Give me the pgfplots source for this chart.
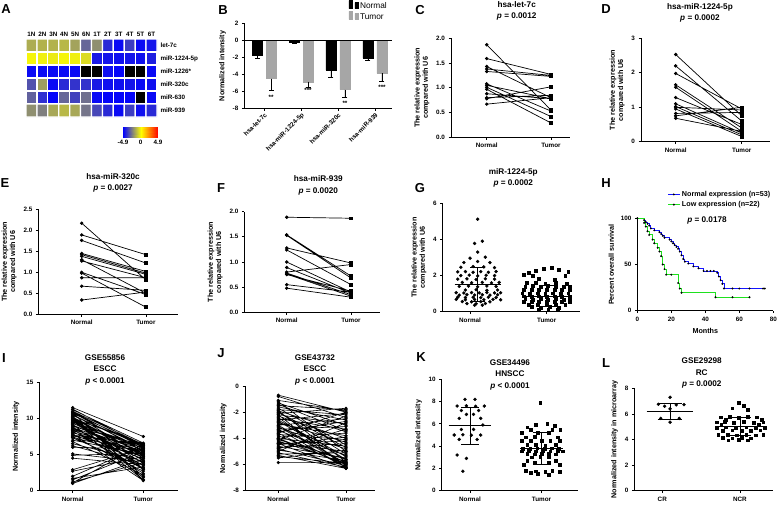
\documentclass[border=0pt]{standalone}
\usepackage{fontspec}
\setmainfont{Liberation Sans}
\usepackage{pgfplots}
\pgfplotsset{compat=1.18}
\newcommand{\tfont}{\fontsize{6.3}{7}\selectfont\bfseries}
\newcommand{\lfont}{\fontsize{7.2}{8.2}\selectfont\bfseries}
\newcommand{\ttfont}{\fontsize{8.2}{11.5}\selectfont\bfseries}
\newcommand{\pfont}{\fontsize{13}{13}\selectfont\bfseries}
\definecolor{tgray}{RGB}{166,166,166}
\definecolor{kmblue}{RGB}{20,20,255}
\definecolor{kmgreen}{RGB}{30,225,30}
\pgfplotsset{
  gp/.style={scale only axis, anchor=north west,
    axis x line*=bottom, axis y line*=left,
    axis line style={line width=0.9pt,-},
    tick style={black, line width=0.8pt},
    tick align=outside, major tick length=2.5pt,
    tick label style={font=\tfont},
    label style={font=\lfont},
    ylabel style={align=center},
    /pgf/number format/assume math mode=true,
    clip=false,
    title style={font=\ttfont, align=center, anchor=south, inner sep=0pt},
  },
  paired/.style={gp, xtick={1,2}, xticklabels={Normal,Tumor}, ymin=0,
    ylabel={The relative expression\\compared with U6}},
  pairline/.style={black, line width=0.7pt, mark size=1.35pt, unbounded coords=jump,
    scatter, point meta=explicit symbolic,
    scatter/classes={n={mark=*,black}, t={mark=square*,black}}},
  dots/.style={only marks, black, mark=*, mark size=1.5pt},
  sqs/.style={only marks, black, mark=square*, mark size=1.4pt},
  stat/.style={black, line width=0.8pt},
}
\begin{document}
\begin{tikzpicture}
\useasboundingbox (0,0) rectangle (778pt,-506pt);
% panel letters
\node[font=\pfont] at (6pt,-9pt) {A};
\node[font=\pfont] at (223pt,-10pt) {B};
\node[font=\pfont] at (420pt,-10pt) {C};
\node[font=\pfont] at (606pt,-9pt) {D};
\node[font=\pfont] at (5pt,-183pt) {E};
\node[font=\pfont] at (221pt,-188pt) {F};
\node[font=\pfont] at (420pt,-188pt) {G};
\node[font=\pfont] at (606pt,-183pt) {H};
\node[font=\pfont] at (4pt,-358pt) {I};
\node[font=\pfont] at (221pt,-353pt) {J};
\node[font=\pfont] at (421pt,-357pt) {K};
\node[font=\pfont] at (606pt,-363pt) {L};

% ---------------- A heatmap
\begin{axis}[scale only axis, anchor=north west, at={(26pt,-39pt)}, width=131pt, height=78pt,
  xmin=-0.5, xmax=11.5, ymin=-0.5, ymax=5.5, y dir=reverse,
  xtick={0,...,11}, xticklabels={1N,2N,3N,4N,5N,6N,1T,2T,3T,4T,5T,6T},
  xticklabel pos=upper,
  ytick={0,...,5}, yticklabels={let-7c,miR-1224-5p,miR-1226*,miR-320c,miR-630,miR-939},
  yticklabel pos=upper,
  major tick length=0pt, axis line style={draw=none},
  tick label style={font=\fontsize{6.3}{7}\selectfont\bfseries},
  xticklabel style={yshift=-1pt},
  colormap={hm}{rgb255(0cm)=(0,0,0); rgb255(1cm)=(0,0,0); rgb255(2cm)=(0,0,255); rgb255(7cm)=(255,255,0); rgb255(12cm)=(255,0,0)},
  point meta min=-7, point meta max=5, clip=false]
\addplot[matrix plot, shader=faceted, faceted color=white, line width=1.3pt, mesh/cols=12, point meta=explicit]
 table[meta=c, row sep=\\] {x y c\\
0 0 -1.6\\ 1 0 -1.5\\ 2 0 -1.5\\ 3 0 -1.4\\ 4 0 -1.8\\ 5 0 -3.0\\ 6 0 -2.2\\ 7 0 -4.2\\ 8 0 -4.8\\ 9 0 -3.8\\ 10 0 -4.8\\ 11 0 -4.6\\
0 1 -0.2\\ 1 1 -0.3\\ 2 1 -0.4\\ 3 1 -0.2\\ 4 1 -0.3\\ 5 1 -0.7\\ 6 1 -4.5\\ 7 1 -4.6\\ 8 1 -4.7\\ 9 1 -4.6\\ 10 1 -4.7\\ 11 1 -4.4\\
0 2 -4.8\\ 1 2 -4.8\\ 2 2 -4.8\\ 3 2 -4.8\\ 4 2 -4.8\\ 5 2 -6.5\\ 6 2 -6.5\\ 7 2 -4.7\\ 8 2 -4.9\\ 9 2 -6.5\\ 10 2 -6.5\\ 11 2 -4.8\\
0 3 -3.4\\ 1 3 -1.9\\ 2 3 -4.8\\ 3 3 -4.2\\ 4 3 -4.0\\ 5 3 -4.0\\ 6 3 -4.5\\ 7 3 -4.7\\ 8 3 -4.7\\ 9 3 -4.6\\ 10 3 -4.8\\ 11 3 -4.7\\
0 4 -3.1\\ 1 4 -4.1\\ 2 4 -4.9\\ 3 4 -3.0\\ 4 4 -3.7\\ 5 4 -2.8\\ 6 4 -4.8\\ 7 4 -4.9\\ 8 4 -4.9\\ 9 4 -4.9\\ 10 4 -6.5\\ 11 4 -4.8\\
0 5 -2.2\\ 1 5 -2.5\\ 2 5 -1.7\\ 3 5 -1.4\\ 4 5 -1.7\\ 5 5 -2.7\\ 6 5 -3.6\\ 7 5 -4.2\\ 8 5 -4.8\\ 9 5 -3.8\\ 10 5 -4.7\\ 11 5 -4.2\\
};
\end{axis}
% colorbar
\begin{axis}[scale only axis, anchor=north west, at={(123pt,-127pt)}, width=35pt, height=10pt,
  xmin=-4.9, xmax=4.9, ymin=0, ymax=1, view={0}{90},
  xtick={-4.9,0,4.9}, xticklabels={-4.9,0,4.9}, ytick=\empty, ztick=\empty,
  major tick length=0pt, axis line style={draw=none},
  tick label style={font=\fontsize{6.3}{7}\selectfont\bfseries},
  colormap={cb}{rgb255(0cm)=(0,0,255); rgb255(1cm)=(255,255,0); rgb255(2cm)=(255,0,0)},
  point meta min=-4.9, point meta max=4.9]
\addplot3[surf, shader=interp, point meta=x, mesh/cols=3] coordinates {
(-4.9,0,0) (0,0,0) (4.9,0,0)
(-4.9,1,0) (0,1,0) (4.9,1,0)};
\end{axis}

% ---------------- B
\begin{axis}[gp, at={(244.3pt,-23.3pt)}, width=147.7pt, height=85pt,
  xmin=0.467, xmax=4.46, ymin=-8, ymax=2, ytick={-8,-6,-4,-2,0,2},
  xtick={1,2,3,4}, xticklabels={hsa-let-7c,hsa-miR-1224-5p,hsa-miR-320c,hsa-miR-939},
  xticklabel style={rotate=45, anchor=north east, inner sep=1pt},
  ylabel={Normalized intensity},
  ybar=4pt, bar width=10pt,
  legend style={at={(1,1)}, anchor=south east, draw=none, fill=none,
    font=\fontsize{8.3}{9}\selectfont, yshift=-2pt, legend cell align=left, row sep=-1pt}]
\addplot[fill=black, draw=black, error bars/.cd, y dir=minus, y explicit,
  error bar style={line width=0.7pt, black}, error mark options={rotate=90, mark size=2.5pt, line width=0.7pt, black}]
  coordinates {(1,-1.8) +- (0,0.3) (2,-0.2) +- (0,0.2) (3,-3.5) +- (0,0.8) (4,-2.1) +- (0,0.3)};
\addplot[fill=tgray, draw=tgray, error bars/.cd, y dir=minus, y explicit,
  error bar style={line width=0.7pt, black}, error mark options={rotate=90, mark size=2.5pt, line width=0.7pt, black}]
  coordinates {(1,-4.5) +- (0,1.4) (2,-4.9) +- (0,0.6) (3,-5.8) +- (0,0.9) (4,-3.9) +- (0,0.9)};
\legend{Normal,Tumor}
\addplot[black, line width=0.9pt, forget plot, sharp plot] coordinates {(0.467,0) (4.46,0)};
\node[font=\tfont] at (axis cs:1,-6.7) [xshift=7pt] {**};
\node[font=\tfont] at (axis cs:2,-5.9) [xshift=7pt] {***};
\node[font=\tfont] at (axis cs:3,-7.4) [xshift=7pt] {**};
\node[font=\tfont] at (axis cs:4,-5.5) [xshift=7pt] {***};
\end{axis}

% ---------------- C
\begin{axis}[paired, at={(451pt,-38.3pt)}, width=119pt, height=99pt,
  xmin=0.444, xmax=2.296, ymax=2, ytick={0,0.5,...,2},
  yticklabel style={/pgf/number format/.cd, fixed, fixed zerofill, precision=1},
  title={hsa-let-7c\\\textit{p} = 0.0012}, title style={at={(0.552,1)}, yshift=11.8pt}]
\addplot[pairline] table[meta=c, row sep=\\] {x y c\\
1 1.87 n\\ 2 0.55 t\\ 1 nan n\\ 1 1.59 n\\ 2 1.27 t\\ 1 nan n\\ 1 1.43 n\\ 2 0.80 t\\ 1 nan n\\
1 1.38 n\\ 2 1.25 t\\ 1 nan n\\ 1 1.33 n\\ 2 1.23 t\\ 1 nan n\\ 1 1.08 n\\ 2 0.53 t\\ 1 nan n\\
1 1.05 n\\ 2 0.78 t\\ 1 nan n\\ 1 1.01 n\\ 2 0.42 t\\ 1 nan n\\ 1 0.97 n\\ 2 0.29 t\\ 1 nan n\\
1 0.88 n\\ 2 0.78 t\\ 1 nan n\\ 1 0.80 n\\ 2 0.85 t\\ 1 nan n\\ 1 0.78 n\\ 2 1.02 t\\ 1 nan n\\
1 0.67 n\\ 2 0.80 t\\};
\end{axis}

% ---------------- D
\begin{axis}[paired, at={(641pt,-38.3pt)}, width=129pt, height=103.4pt,
  xmin=0.475, xmax=2.428, ymax=3, ytick={0,1,2,3},
  title={hsa-miR-1224-5p\\\textit{p} = 0.0002}, title style={at={(0.457,1)}, yshift=9.8pt}]
\addplot[pairline] table[meta=c, row sep=\\] {x y c\\
1 2.53 n\\ 2 0.75 t\\ 1 nan n\\ 1 2.20 n\\ 2 0.60 t\\ 1 nan n\\ 1 1.98 n\\ 2 0.95 t\\ 1 nan n\\
1 1.65 n\\ 2 0.40 t\\ 1 nan n\\ 1 1.58 n\\ 2 0.30 t\\ 1 nan n\\ 1 1.28 n\\ 2 0.50 t\\ 1 nan n\\
1 1.10 n\\ 2 0.25 t\\ 1 nan n\\ 1 1.02 n\\ 2 0.20 t\\ 1 nan n\\ 1 0.95 n\\ 2 0.15 t\\ 1 nan n\\
1 0.82 n\\ 2 0.85 t\\ 1 nan n\\ 1 0.75 n\\ 2 1.00 t\\ 1 nan n\\ 1 0.68 n\\ 2 0.30 t\\ 1 nan n\\
1 1.00 n\\ 2 0.92 t\\};
\end{axis}

% ---------------- E
\begin{axis}[paired, at={(38.3pt,-209.3pt)}, width=139.7pt, height=105pt,
  xmin=0.324, xmax=2.5, ymax=2.5, ytick={0,0.5,...,2.5},
  yticklabel style={/pgf/number format/.cd, fixed, fixed zerofill, precision=1},
  title={hsa-miR-320c\\\textit{p} = 0.0027}, title style={at={(0.535,1)}, yshift=10.8pt}]
\addplot[pairline] table[meta=c, row sep=\\] {x y c\\
1 2.17 n\\ 2 0.82 t\\ 1 nan n\\ 1 1.89 n\\ 2 1.42 t\\ 1 nan n\\ 1 1.76 n\\ 2 1.22 t\\ 1 nan n\\
1 1.45 n\\ 2 1.02 t\\ 1 nan n\\ 1 1.42 n\\ 2 0.98 t\\ 1 nan n\\ 1 1.38 n\\ 2 0.95 t\\ 1 nan n\\
1 1.30 n\\ 2 0.50 t\\ 1 nan n\\ 1 1.27 n\\ 2 0.87 t\\ 1 nan n\\ 1 1.00 n\\ 2 0.47 t\\ 1 nan n\\
1 0.98 n\\ 2 0.17 t\\ 1 nan n\\ 1 0.87 n\\ 2 0.87 t\\ 1 nan n\\ 1 0.67 n\\ 2 0.57 t\\ 1 nan n\\
1 0.34 n\\ 2 0.53 t\\};
\end{axis}

% ---------------- F
\begin{axis}[paired, at={(244.3pt,-211.7pt)}, width=135.7pt, height=100.6pt,
  xmin=0.341, xmax=2.45, ymax=2, ytick={0,0.5,...,2},
  yticklabel style={/pgf/number format/.cd, fixed, fixed zerofill, precision=1},
  title={hsa-miR-939\\\textit{p} = 0.0020}, title style={at={(0.545,1)}, yshift=10.5pt}]
\addplot[pairline] table[meta=c, row sep=\\] {x y c\\
1 1.89 n\\ 2 1.87 t\\ 1 nan n\\ 1 1.54 n\\ 2 0.72 t\\ 1 nan n\\ 1 1.53 n\\ 2 0.68 t\\ 1 nan n\\
1 1.28 n\\ 2 0.98 t\\ 1 nan n\\ 1 1.24 n\\ 2 0.55 t\\ 1 nan n\\ 1 1.00 n\\ 2 0.40 t\\ 1 nan n\\
1 0.89 n\\ 2 0.38 t\\ 1 nan n\\ 1 0.80 n\\ 2 0.95 t\\ 1 nan n\\ 1 0.78 n\\ 2 0.35 t\\ 1 nan n\\
1 0.76 n\\ 2 0.32 t\\ 1 nan n\\ 1 0.55 n\\ 2 0.40 t\\ 1 nan n\\ 1 0.48 n\\ 2 0.30 t\\ 1 nan n\\
1 0.75 n\\ 2 0.42 t\\};
\end{axis}

% ---------------- G
\begin{axis}[gp, at={(442.7pt,-203.3pt)}, width=137pt, height=108.4pt,
  xmin=0.644, xmax=2.43, ymin=0, ymax=6, ytick={0,2,4,6},
  xtick={1,2}, xticklabels={Normal,Tumor},
  ylabel={The relative expression\\compared with U6},
  title={miR-1224-5p\\\textit{p} = 0.0002}, title style={at={(0.515,1)}, yshift=9.5pt}]
\addplot[dots] coordinates {
(1.10,5.12) (1.16,3.90) (1.06,3.78) (1.10,3.30) (1.20,3.02) (1.00,2.96) (0.92,2.72) (1.10,2.78) (1.26,2.72)
(0.88,2.46) (1.04,2.50) (1.18,2.48) (1.32,2.44)
(0.84,2.20) (0.94,2.22) (1.04,2.18) (1.14,2.22) (1.24,2.18) (1.34,2.22)
(0.88,2.00) (0.99,2.02) (1.10,1.98) (1.21,2.02) (1.32,2.00)
(0.84,1.80) (0.96,1.82) (1.08,1.78) (1.20,1.82) (1.32,1.80)
(0.90,1.62) (1.02,1.60) (1.16,1.62) (1.28,1.60) (1.38,1.62)
(0.86,1.40) (0.98,1.42) (1.10,1.38) (1.22,1.42) (1.34,1.40)
(0.94,1.20) (1.08,1.22) (1.22,1.18) (1.36,1.20)
(0.82,1.05) (0.92,1.04) (1.02,1.06) (1.12,1.04) (1.22,1.06) (1.32,1.04) (1.40,1.05)
(0.86,0.92) (0.96,0.94) (1.06,0.92) (1.16,0.94) (1.26,0.92) (1.36,0.94)
(0.84,0.80) (0.94,0.78) (1.04,0.80) (1.14,0.78) (1.24,0.80) (1.34,0.78)
(0.82,0.68) (0.94,0.66) (1.06,0.68) (1.18,0.66) (1.30,0.68) (1.40,0.66)
(0.90,0.56) (1.02,0.55) (1.14,0.56) (1.26,0.55)
(0.96,0.45) (1.08,0.44) (1.20,0.45) (1.06,0.36) (1.16,0.36)};
\addplot[sqs] coordinates {
(2.06,2.45) (1.96,2.40) (2.16,2.32) (1.86,2.26) (2.28,2.20) (1.76,2.14)
(1.70,2.04) (1.82,2.00) (2.24,1.98) (1.90,1.82) (2.10,1.76)
(1.74,1.60) (1.86,1.62) (1.98,1.58) (2.12,1.60) (2.26,1.57)
(1.72,1.40) (1.82,1.42) (1.92,1.38) (2.02,1.42) (2.12,1.38) (2.22,1.40) (2.30,1.41)
(1.70,1.22) (1.80,1.20) (1.90,1.22) (2.00,1.20) (2.10,1.22) (2.20,1.20) (2.30,1.22)
(1.68,1.02) (1.78,1.00) (1.88,1.02) (1.98,1.00) (2.08,1.02) (2.18,1.00) (2.28,1.02)
(1.70,0.86) (1.80,0.84) (1.90,0.86) (2.00,0.84) (2.10,0.86) (2.20,0.84) (2.30,0.86)
(1.72,0.70) (1.82,0.68) (1.92,0.70) (2.02,0.68) (2.12,0.70) (2.22,0.68) (2.30,0.70)
(1.70,0.54) (1.80,0.56) (1.90,0.54) (2.00,0.56) (2.10,0.54) (2.20,0.56) (2.30,0.54)
(1.76,0.40) (1.88,0.38) (2.00,0.40) (2.12,0.38) (2.24,0.40)
(1.80,0.26) (1.92,0.24) (2.04,0.26) (2.16,0.24) (1.90,0.12) (2.02,0.10) (2.14,0.12)};
\addplot[stat] coordinates {(0.80,1.52) (1.40,1.52)};
\addplot[stat] coordinates {(1.1,0.57) (1.1,2.47)};
\addplot[stat] coordinates {(1.0,0.57) (1.2,0.57)};
\addplot[stat] coordinates {(1.0,2.47) (1.2,2.47)};
\addplot[stat] coordinates {(1.70,0.85) (2.30,0.85)};
\addplot[stat] coordinates {(2,0.30) (2,1.45)};
\addplot[stat] coordinates {(1.9,0.30) (2.1,0.30)};
\addplot[stat] coordinates {(1.9,1.45) (2.1,1.45)};
\end{axis}

% ---------------- H
\begin{axis}[gp, at={(637.3pt,-218.3pt)}, width=136pt, height=92.4pt,
  xmin=0, xmax=80, ymin=0, ymax=100, xtick={0,20,40,60,80}, ytick={0,50,100},
  xlabel={Months}, ylabel={Percent overall survival},
  legend style={at={(axis cs:16,134)}, anchor=north west, draw=none, fill=none,
    font=\fontsize{7.2}{8}\selectfont\bfseries, legend cell align=left, row sep=-0.5pt},
  legend image code/.code={\draw[mark repeat=2,mark phase=2,#1] plot coordinates {(0cm,0cm) (0.2cm,0cm) (0.4cm,0cm)};}]
\addplot[const plot, kmblue, line width=0.9pt, mark=*, mark size=0.45pt, mark options={black}] coordinates {
(0,100) (4,98) (5,96) (6,94) (7,92) (8,89) (10,87) (13,85) (14,83) (15,81) (16,79) (19,77) (20,75)
(21,73) (22,71) (23,69) (24,67) (25,64) (26,60) (27,56) (28,53) (30,51) (33,48) (36,46) (39,43)
(41,43) (43,43) (45,43) (47,41) (48,37) (49,33) (50,29) (51,24) (56,24) (60,24) (66,24) (74,24) (75,24)};
\addplot[const plot, kmgreen, line width=0.9pt, mark=*, mark size=0.45pt, mark options={black}] coordinates {
(0,100) (4,95) (5,91) (6,86) (7,82) (9,77) (10,73) (12,68) (13,64) (14,59) (15,50) (16,45) (17,39)
(20,39) (24,30) (25,24) (26,19.5) (46,14.6) (56,14.6) (66,14.6)};
\legend{Normal expression (n=53), Low expression (n=22)}
\node[font=\ttfont] at (axis cs:41,98) {\textit{p} = 0.0178};
\end{axis}

% ---------------- I
\begin{axis}[gp, at={(39.3pt,-382.3pt)}, width=139pt, height=108.4pt,
  xmin=0.527, xmax=2.496, ymin=0, ymax=15, ytick={0,5,10,15},
  xtick={1,2}, xticklabels={Normal,Tumor}, ylabel={Normalized intensity},
  title={GSE55856\\ESCC\\\textit{p} < 0.0001}, title style={at={(0.473,1)}, yshift=-8.9pt}]
\addplot[black, line width=0.6pt, mark=*, mark size=1.3pt, unbounded coords=jump] table[row sep=\\] {x y\\
1 11.5\\ 2 7.5\\ 1 nan\\ 1 11.3\\ 2 6.2\\ 1 nan\\ 1 11.2\\ 2 6.6\\ 1 nan\\ 1 11.0\\ 2 6.4\\ 1 nan\\
1 10.9\\ 2 6.0\\ 1 nan\\ 1 10.8\\ 2 5.5\\ 1 nan\\ 1 10.8\\ 2 1.5\\ 1 nan\\ 1 10.7\\ 2 6.3\\ 1 nan\\
1 10.6\\ 2 4.8\\ 1 nan\\ 1 10.5\\ 2 5.8\\ 1 nan\\ 1 10.4\\ 2 6.2\\ 1 nan\\ 1 10.3\\ 2 2.0\\ 1 nan\\
1 10.2\\ 2 5.0\\ 1 nan\\ 1 10.1\\ 2 4.5\\ 1 nan\\ 1 10.0\\ 2 6.5\\ 1 nan\\ 1 10.0\\ 2 3.1\\ 1 nan\\
1 9.9\\ 2 5.6\\ 1 nan\\ 1 9.9\\ 2 2.9\\ 1 nan\\ 1 9.8\\ 2 1.8\\ 1 nan\\ 1 9.7\\ 2 5.2\\ 1 nan\\
1 9.6\\ 2 3.8\\ 1 nan\\ 1 9.5\\ 2 6.1\\ 1 nan\\ 1 9.4\\ 2 4.2\\ 1 nan\\ 1 9.3\\ 2 5.9\\ 1 nan\\
1 9.2\\ 2 1.5\\ 1 nan\\ 1 9.1\\ 2 4.9\\ 1 nan\\ 1 9.0\\ 2 5.4\\ 1 nan\\ 1 8.9\\ 2 6.3\\ 1 nan\\
1 8.8\\ 2 3.5\\ 1 nan\\ 1 8.7\\ 2 5.7\\ 1 nan\\ 1 8.6\\ 2 4.6\\ 1 nan\\ 1 8.5\\ 2 2.4\\ 1 nan\\
1 8.4\\ 2 6.0\\ 1 nan\\ 1 8.3\\ 2 5.1\\ 1 nan\\ 1 8.2\\ 2 3.0\\ 1 nan\\ 1 8.1\\ 2 4.4\\ 1 nan\\
1 8.0\\ 2 5.5\\ 1 nan\\ 1 7.9\\ 2 1.4\\ 1 nan\\ 1 7.8\\ 2 4.0\\ 1 nan\\ 1 7.7\\ 2 6.4\\ 1 nan\\
1 7.6\\ 2 5.3\\ 1 nan\\ 1 7.5\\ 2 2.7\\ 1 nan\\ 1 7.4\\ 2 4.8\\ 1 nan\\ 1 7.3\\ 2 3.2\\ 1 nan\\
1 7.0\\ 2 5.0\\ 1 nan\\ 1 6.8\\ 2 2.2\\ 1 nan\\ 1 6.5\\ 2 4.1\\ 1 nan\\ 1 6.2\\ 2 3.6\\ 1 nan\\
1 6.0\\ 2 5.8\\ 1 nan\\ 1 5.1\\ 2 4.0\\ 1 nan\\ 1 4.9\\ 2 5.2\\ 1 nan\\ 1 4.5\\ 2 3.6\\ 1 nan\\
1 2.9\\ 2 5.9\\ 1 nan\\ 1 2.7\\ 2 4.7\\ 1 nan\\ 1 2.0\\ 2 6.2\\ 1 nan\\ 1 1.7\\ 2 3.3\\ 1 nan\\
1 1.5\\ 2 5.4\\ 1 nan\\ 1 1.2\\ 2 3.9\\ 1 nan\\ 1 1.0\\ 2 4.4\\ 1 nan\\ 1 1.1\\ 2 6.5\\};
\end{axis}

% ---------------- J
\begin{axis}[gp, at={(245pt,-386pt)}, width=130pt, height=104.7pt,
  xmin=0.508, xmax=2.428, ymin=-8, ymax=0, ytick={-8,-6,-4,-2,0},
  xtick={1,2}, xticklabels={Normal,Tumor}, ylabel={Normalized intensity},
  title={GSE43732\\ESCC\\\textit{p} < 0.0001}, title style={at={(0.538,1)}, yshift=-5.2pt}]
\addplot[black, line width=0.6pt, mark=*, mark size=1.3pt, unbounded coords=jump] table[row sep=\\] {x y\\
1 -0.7\\ 2 -2.0\\ 1 nan\\ 1 -0.8\\ 2 -2.4\\ 1 nan\\ 1 -1.1\\ 2 -1.9\\ 1 nan\\ 1 -1.3\\ 2 -3.0\\ 1 nan\\
1 -1.5\\ 2 -1.8\\ 1 nan\\ 1 -1.6\\ 2 -2.6\\ 1 nan\\ 1 -1.7\\ 2 -4.5\\ 1 nan\\ 1 -1.8\\ 2 -2.2\\ 1 nan\\
1 -1.9\\ 2 -3.5\\ 1 nan\\ 1 -2.0\\ 2 -5.2\\ 1 nan\\ 1 -2.1\\ 2 -1.7\\ 1 nan\\ 1 -2.2\\ 2 -2.9\\ 1 nan\\
1 -2.3\\ 2 -4.0\\ 1 nan\\ 1 -2.4\\ 2 -6.1\\ 1 nan\\ 1 -2.5\\ 2 -3.3\\ 1 nan\\ 1 -2.6\\ 2 -2.1\\ 1 nan\\
1 -2.7\\ 2 -5.6\\ 1 nan\\ 1 -2.8\\ 2 -4.3\\ 1 nan\\ 1 -2.9\\ 2 -3.8\\ 1 nan\\ 1 -3.0\\ 2 -2.5\\ 1 nan\\
1 -3.1\\ 2 -6.0\\ 1 nan\\ 1 -3.2\\ 2 -4.8\\ 1 nan\\ 1 -3.3\\ 2 -3.1\\ 1 nan\\ 1 -3.4\\ 2 -5.3\\ 1 nan\\
1 -3.5\\ 2 -2.7\\ 1 nan\\ 1 -3.6\\ 2 -6.2\\ 1 nan\\ 1 -3.7\\ 2 -4.1\\ 1 nan\\ 1 -3.8\\ 2 -5.8\\ 1 nan\\
1 -3.9\\ 2 -3.6\\ 1 nan\\ 1 -4.0\\ 2 -4.6\\ 1 nan\\ 1 -4.1\\ 2 -2.3\\ 1 nan\\ 1 -4.2\\ 2 -5.9\\ 1 nan\\
1 -4.3\\ 2 -5.0\\ 1 nan\\ 1 -4.4\\ 2 -6.3\\ 1 nan\\ 1 -4.5\\ 2 -3.9\\ 1 nan\\ 1 -4.6\\ 2 -5.5\\ 1 nan\\
1 -4.7\\ 2 -4.4\\ 1 nan\\ 1 -4.8\\ 2 -6.1\\ 1 nan\\ 1 -4.9\\ 2 -5.7\\ 1 nan\\ 1 -5.0\\ 2 -2.8\\ 1 nan\\
1 -5.1\\ 2 -6.2\\ 1 nan\\ 1 -5.2\\ 2 -5.1\\ 1 nan\\ 1 -5.4\\ 2 -5.9\\ 1 nan\\ 1 -5.5\\ 2 -4.9\\ 1 nan\\
1 -5.85\\ 2 -5.85\\ 1 nan\\ 1 -1.4\\ 2 -3.4\\ 1 nan\\ 1 -2.6\\ 2 -5.4\\ 1 nan\\ 1 -3.3\\ 2 -6.2\\ 1 nan\\
1 -4.0\\ 2 -6.0\\ 1 nan\\ 1 -4.8\\ 2 -3.3\\ 1 nan\\ 1 -2.0\\ 2 -4.7\\ 1 nan\\ 1 -1.2\\ 2 -5.0\\ 1 nan\\
1 -3.6\\ 2 -2.0\\ 1 nan\\ 1 -4.4\\ 2 -4.2\\ 1 nan\\ 1 -5.3\\ 2 -6.3\\ 1 nan\\ 1 -2.2\\ 2 -6.25\\ 1 nan\\
1 -3.0\\ 2 -5.9\\ 1 nan\\ 1 -1.9\\ 2 -5.8\\ 1 nan\\ 1 -4.1\\ 2 -5.6\\};
\end{axis}

% ---------------- K
\begin{axis}[gp, at={(441.7pt,-379.3pt)}, width=136pt, height=111.4pt,
  xmin=0.605, xmax=2.505, ymin=0, ymax=10, ytick={0,2,...,10},
  xtick={1,2}, xticklabels={Normal,Tumor}, ylabel={Normalized intensity},
  title={GSE34496\\HNSCC\\\textit{p} < 0.0001}, title style={at={(0.502,1)}, yshift=-16.9pt}]
\addplot[dots] coordinates {
(0.93,8.2) (1.07,8.2) (0.82,7.6) (0.95,7.62) (1.08,7.58) (1.20,7.6) (0.88,7.2) (1.12,7.2)
(0.95,6.85) (1.05,6.85) (0.85,6.5) (1.15,6.5) (1.18,5.9) (0.88,5.5) (1.05,5.5)
(0.78,5.0) (0.90,5.02) (1.02,4.98) (1.15,5.0) (0.85,4.6) (1.10,4.6) (0.82,3.2) (0.95,2.9) (0.90,1.75)};
\addplot[sqs] coordinates {
(1.98,7.9) (2.08,6.0) (1.92,5.9) (2.18,5.8) (1.80,5.7) (1.85,5.5) (2.15,5.5) (2.26,5.45)
(1.72,5.2) (1.95,5.22) (2.10,5.18) (1.78,4.8) (1.90,4.82) (2.22,4.8)
(1.72,4.5) (1.85,4.52) (2.00,4.48) (2.12,4.5) (2.25,4.52)
(1.80,4.1) (1.92,4.12) (2.05,4.08) (2.20,4.1)
(1.74,3.8) (1.84,3.78) (1.94,3.82) (2.04,3.78) (2.14,3.82) (2.24,3.8)
(1.72,3.55) (1.82,3.56) (1.92,3.54) (2.02,3.56) (2.12,3.54) (2.22,3.56) (2.30,3.55)
(1.80,3.3) (1.90,3.28) (2.00,3.32) (2.10,3.3) (2.20,3.28)
(1.86,3.0) (1.98,3.02) (2.10,3.0)
(1.80,2.7) (2.20,2.7) (1.90,2.5) (2.10,2.5) (1.75,2.3) (2.25,2.3)
(1.78,1.8) (1.92,1.75) (2.15,1.8) (1.85,1.65) (2.05,1.68) (2.25,1.7) (1.95,1.5) (2.10,1.45)};
\addplot[stat] coordinates {(0.70,5.85) (1.30,5.85)};
\addplot[stat] coordinates {(1,4.2) (1,7.5)};
\addplot[stat] coordinates {(0.88,4.2) (1.12,4.2)};
\addplot[stat] coordinates {(0.88,7.5) (1.12,7.5)};
\addplot[stat] coordinates {(1.70,3.8) (2.30,3.8)};
\addplot[stat] coordinates {(2,2.4) (2,5.2)};
\addplot[stat] coordinates {(1.88,2.4) (2.12,2.4)};
\addplot[stat] coordinates {(1.88,5.2) (2.12,5.2)};
\end{axis}

% ---------------- L
\begin{axis}[gp, at={(634.3pt,-388.3pt)}, width=139pt, height=102.4pt,
  xmin=0.64, xmax=2.43, ymin=0, ymax=8, ytick={0,2,4,6,8},
  xtick={1,2}, xticklabels={CR,NCR}, ylabel={Normalized intensity in microarray},
  title={GSE29298\\RC\\\textit{p} = 0.0002}, title style={at={(0.485,1)}, yshift=-6.2pt}]
\addplot[dots] coordinates {
(1.10,7.3) (0.95,6.75) (1.18,6.7) (1.28,6.72) (1.03,6.6) (1.10,6.4) (0.98,5.65) (1.22,5.65) (1.10,5.35)};
\addplot[sqs] coordinates {
(1.98,6.85) (2.05,6.65) (1.90,6.45) (2.10,6.3)
(1.75,5.75) (1.87,5.78) (1.98,5.72) (2.10,5.76) (2.22,5.74) (1.82,5.55) (2.28,5.55)
(1.70,5.35) (1.80,5.36) (1.92,5.34) (2.05,5.36) (2.18,5.34) (2.30,5.35) (1.76,5.15) (2.24,5.15)
(1.70,4.95) (1.82,4.96) (1.95,4.94) (2.08,4.96) (2.20,4.94) (2.32,4.95)
(1.78,4.7) (1.90,4.72) (2.02,4.68) (2.14,4.7) (2.26,4.72)
(1.72,4.35) (1.84,4.36) (1.96,4.34) (2.08,4.36) (2.20,4.34) (2.30,4.36)
(1.78,4.12) (1.90,4.1) (2.02,4.12) (2.14,4.1) (1.85,3.95) (1.98,3.97) (2.10,3.95)};
\addplot[stat] coordinates {(0.80,6.2) (1.40,6.2)};
\addplot[stat] coordinates {(1.1,5.58) (1.1,6.85)};
\addplot[stat] coordinates {(0.94,5.58) (1.26,5.58)};
\addplot[stat] coordinates {(0.94,6.85) (1.26,6.85)};
\addplot[stat] coordinates {(1.70,5.0) (2.30,5.0)};
\addplot[stat] coordinates {(2,4.3) (2,5.75)};
\addplot[stat] coordinates {(1.86,4.3) (2.14,4.3)};
\addplot[stat] coordinates {(1.86,5.75) (2.14,5.75)};
\end{axis}
\end{tikzpicture}
\end{document}
